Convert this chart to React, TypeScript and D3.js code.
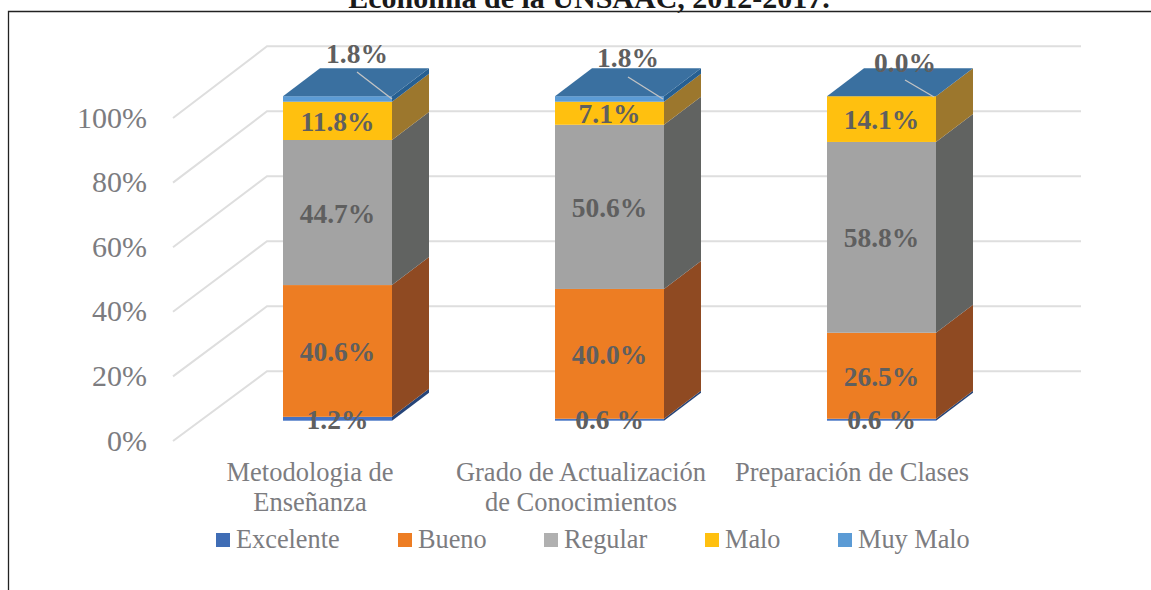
import React from "react";
import * as d3 from "d3";

const categories = ["Metodologia de Enseñanza", "Grado de Actualización de Conocimientos", "Preparación de Clases"];
const categoryLines = [["Metodologia de", "Enseñanza"], ["Grado de Actualización", "de Conocimientos"], ["Preparación de Clases"]];
const seriesNames = ["Excelente", "Bueno", "Regular", "Malo", "Muy Malo"];
const excelente = [1.2, 0.6, 0.6];
const bueno = [40.6, 40.0, 26.5];
const regular = [44.7, 50.6, 58.8];
const malo = [11.8, 7.1, 14.1];
const muyMalo = [1.8, 1.8, 0.0];
const seriesValues = [excelente, bueno, regular, malo, muyMalo];
const seriesLabels = [["1.2%", "0.6 %", "0.6 %"], ["40.6%", "40.0%", "26.5%"], ["44.7%", "50.6%", "58.8%"], ["11.8%", "7.1%", "14.1%"], ["1.8%", "1.8%", "0.0%"]];
const frontColors = ["#4472c4", "#ed7d23", "#a3a3a3", "#ffc00f", "#5b9bd5"];
const sideColors = ["#264478", "#8f4a22", "#616361", "#9c772d", "#265f91"];
const legendColors = ["#3f6db5", "#ed7d23", "#b0b0b0", "#ffc00f", "#5b9bd5"];
const topColor = "#3a70a0";
const yTicks = [0, 20, 40, 60, 80, 100];
const legendX = [216, 398, 544, 705, 838];
const topLabelPos = [[357, 63], [628, 67], [905, 72]];
const leaderEnds = [[357, 72, 392, 99], [628, 77, 663, 99], [905, 80, 934, 97]];

const FONT = "'Liberation Serif','Times New Roman',serif";
const GRID = "#dedede";
const TXT = "#5f5f5f";
const LABEL = "#7c7c80";

export default function App() {
  const depthX = 37, depthY = -28;
  const y = d3.scaleLinear().domain([0, 100]).range([420.7, 96.2]);
  const backY = d3.scaleLinear().domain([0, 100]).range([371.3, 46.3]);
  const leftY = d3.scaleLinear().domain([0, 100]).range([441, 118]);
  const outer = d3.scaleBand<string>().domain(categories).range([175, 991]);
  const bw = 109;
  const barX = (c: string) => (outer(c) as number) + 108;

  const stacks = d3.stack<number>().keys(seriesNames.map((_, i) => i) as any).value((d: any, k: any) => seriesValues[k][d])(categories.map((_, i) => i) as any);

  return (
    <svg width={1151} height={590} style={{ position: "absolute", left: 0, top: 0, background: "#fff" }} fontFamily={FONT}>
      <text x={589} y={8} textAnchor="middle" fontSize={30} fontWeight="bold" fill="#1a1a1a">Economía de la UNSAAC, 2012-2017.</text>
      <path d="M8.5 590V11.5H1151" fill="none" stroke="#222" strokeWidth={1.3} />
      {yTicks.map((t) => (
        <g key={t}>
          <polyline points={`173,${leftY(t)} 267,${backY(t)} 1081,${backY(t)}`} fill="none" stroke={GRID} strokeWidth={2} />
          <text x={147} y={leftY(t) + 9.5} textAnchor="end" fontSize={30} fill={LABEL}>{t}%</text>
        </g>
      ))}
      {categories.map((c, ci) => {
        const x = barX(c);
        return (
          <g key={c}>
            {stacks.map((s, si) => {
              const y0 = y(Math.min(s[ci][0], 100));
              const y1 = si === 4 ? y(100) : y(s[ci][1]);
              return (
                <g key={si}>
                  <rect x={x} y={y1} width={bw} height={Math.max(y0 - y1, 0)} fill={frontColors[si]} />
                  <polygon points={`${x + bw},${y0} ${x + bw},${y1} ${x + bw + depthX},${y1 + depthY} ${x + bw + depthX},${y0 + depthY}`} fill={sideColors[si]} />
                </g>
              );
            })}
            <polygon points={`${x},${y(100)} ${x + bw},${y(100)} ${x + bw + depthX},${y(100) + depthY} ${x + depthX},${y(100) + depthY}`} fill={topColor} />
          </g>
        );
      })}
      {categories.map((c, ci) => {
        const x = barX(c);
        const cx = x + bw / 2;
        const [x1, y1, x2, y2] = leaderEnds[ci];
        return (
          <g key={c + "l"}>
            <line x1={x1} y1={y1} x2={x2} y2={y2} stroke="#c4c4c4" strokeWidth={1.3} />
            {seriesLabels.map((row, si) => {
              const s = stacks[si][ci];
              let px = cx, py = y((s[0] + s[1]) / 2) + 10;
              if (si === 0) py = 429;
              if (si === 4) { px = topLabelPos[ci][0]; py = topLabelPos[ci][1]; }
              return <text key={si} x={px} y={py} textAnchor="middle" fontSize={27.5} fontWeight="bold" fill={TXT}>{row[ci]}</text>;
            })}
            {categoryLines[ci].map((ln, li) => (
              <text key={li} x={[310, 581, 852][ci]} y={481 + li * 30} textAnchor="middle" fontSize={26.5} fill={LABEL}>{ln}</text>
            ))}
          </g>
        );
      })}
      {seriesNames.map((n, i) => (
        <g key={n}>
          <rect x={legendX[i]} y={533} width={14} height={14} fill={legendColors[i]} />
          <text x={legendX[i] + 20} y={548} fontSize={26.3} fill={LABEL}>{n}</text>
        </g>
      ))}
    </svg>
  );
}
